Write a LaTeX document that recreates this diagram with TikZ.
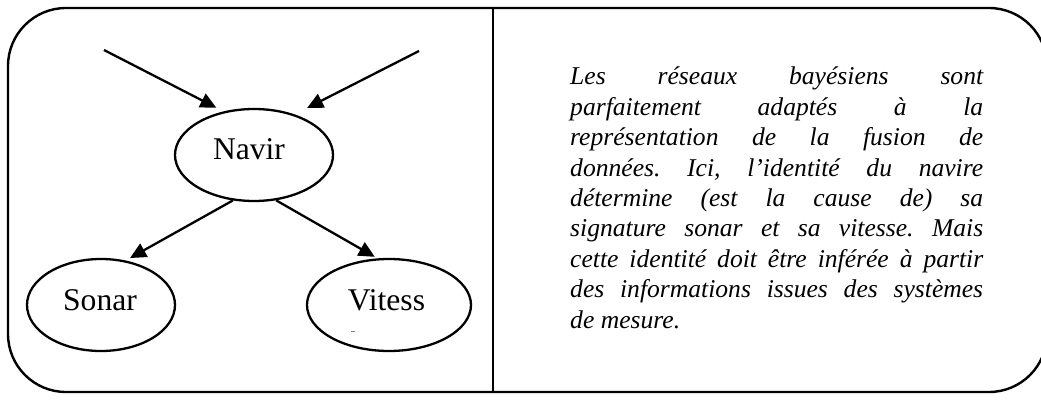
\documentclass[tikz,border=0pt]{standalone}
\usepackage{fontspec}
\setmainfont{Liberation Serif}
\usetikzlibrary{arrows.meta,shapes.geometric}
\frenchspacing
\begin{document}
\begin{tikzpicture}[x=1pt,y=-1pt,
  frame/.style={line width=2.4pt, rounded corners=58pt},
  divider/.style={line width=1.6pt},
  oval/.style={ellipse, draw, line width=2.3pt, inner sep=0pt, minimum height=92pt},
  lbl/.style={anchor=base, inner sep=0pt, font=\fontsize{31.6}{36}\selectfont},
  link/.style={line width=2.3pt, -{Triangle[length=16pt,width=15pt]}}
]
\useasboundingbox (0,0) rectangle (1041,401);

% outer rounded frame and the column divider
\draw[frame] (8,8) rectangle (1047,392);
\draw[divider] (493,8) -- (493,392);

% network nodes
\node[oval, minimum width=158pt] (navir)  at (254,155) {};
\node[oval, minimum width=148pt] (sonar)  at (101,305) {};
\node[oval, minimum width=164pt] (vitess) at (389,305) {};

\node[lbl] (navirlbl)  at (249,159) {Navir};
\node[lbl] (sonarlbl)  at (100,310) {Sonar};
\node[lbl] (vitesslbl) at (386.5,310) {Vitess};
\draw[gray, line width=1pt] (351,331) -- (355,331);

% incoming evidence arrows (free ends) and causal links
\coordinate (srcA) at (104,50);
\coordinate (srcB) at (419,51);
\draw[link, shorten >=8pt]  (srcA) -- (navir.125.5);
\draw[link, shorten >=14pt] (srcB) -- (navir.45);
\draw[link, shorten >=5pt]  (navir.245) -- (sonar.61);
\draw[link, shorten >=3pt]  (navir.296) -- (vitess.104);

% explanatory text, justified line by line
\node[anchor=base west, inner sep=0pt] (note) at (570,85) {\parbox[t]{413pt}{%
  \fontsize{25.6}{30.4}\selectfont\itshape
  \hbox to\hsize{Les réseaux bayésiens sont}
  \hbox to\hsize{parfaitement adaptés à la}
  \hbox to\hsize{représentation de la fusion de}
  \hbox to\hsize{données. Ici, l’identité du navire}
  \hbox to\hsize{détermine (est la cause de) sa}
  \hbox to\hsize{signature sonar et sa vitesse. Mais}
  \hbox to\hsize{cette identité doit être inférée à partir}
  \hbox to\hsize{des informations issues des systèmes}
  \hbox{de mesure.}}};
\end{tikzpicture}
\end{document}
